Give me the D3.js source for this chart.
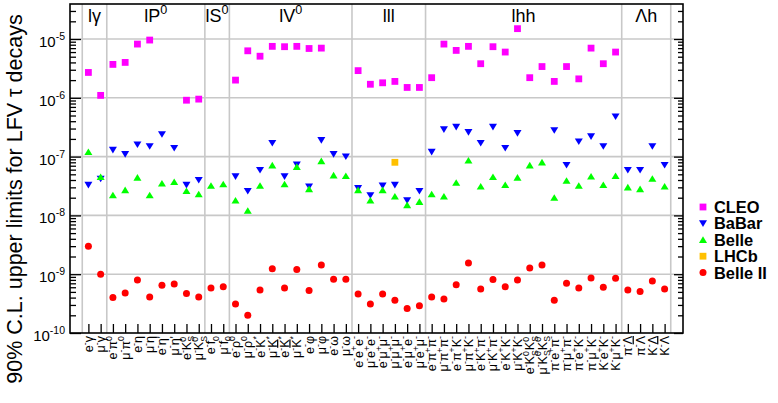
<!DOCTYPE html>
<html>
<head>
<meta charset="utf-8">
<script src="https://cdn.jsdelivr.net/npm/d3@7"></script>
<style>
body { margin: 0; background: #fff; }
text { font-family: "Liberation Sans", Arial, Helvetica, sans-serif; fill: #000; }
</style>
</head>
<body>
<svg id="chart" width="778" height="403"></svg>
<script>
// decay groups along x (name, number of channels)
const groupNames = ["l\u03b3", "lP^{0}", "lS^{0}", "lV^{0}", "lll", "lhh", "\u039bh"];
const groupSizes = [2, 8, 2, 10, 6, 16, 4];

// channel labels (little latex-like markup: ^{} sup, _{} sub, #bar{} overline)
const decays = [
    "e^{-}\u03b3", "\u03bc^{-}\u03b3",
    "e^{-}\u03c0^{0}", "\u03bc^{-}\u03c0^{0}", "e^{-}\u03b7", "\u03bc^{-}\u03b7", "e^{-}\u03b7'", "\u03bc^{-}\u03b7'", "e^{-}K^{0}_{S}", "\u03bc^{-}K^{0}_{S}",
    "e^{-}f_{0}", "\u03bc^{-}f_{0}",
    "e^{-}\u03c1^{0}", "\u03bc^{-}\u03c1^{0}", "e^{-}K^{*}", "\u03bc^{-}K^{*}", "e^{-}#bar{K}^{*}", "\u03bc^{-}#bar{K}^{*}", "e^{-}\u03c6", "\u03bc^{-}\u03c6", "e^{-}\u03c9", "\u03bc^{-}\u03c9",
    "e^{-}e^{+}e^{-}", "\u03bc^{-}e^{+}e^{-}", "e^{-}\u03bc^{+}\u03bc^{-}", "\u03bc^{-}\u03bc^{+}\u03bc^{-}", "e^{-}\u03bc^{+}e^{-}", "\u03bc^{-}e^{+}\u03bc^{-}",
    "e^{-}\u03c0^{+}\u03c0^{-}", "\u03bc^{-}\u03c0^{+}\u03c0^{-}", "e^{-}\u03c0^{+}K^{-}", "\u03bc^{-}\u03c0^{+}K^{-}", "e^{-}K^{+}\u03c0^{-}", "\u03bc^{-}K^{+}\u03c0^{-}", "e^{-}K^{+}K^{-}", "\u03bc^{-}K^{+}K^{-}",
    "e^{-}K^{0}_{S}K^{0}_{S}", "\u03bc^{-}K^{0}_{S}K^{0}_{S}", "\u03c0^{-}e^{+}\u03c0^{-}", "\u03c0^{-}\u03bc^{+}\u03c0^{-}", "\u03c0^{-}e^{+}K^{-}", "\u03c0^{-}\u03bc^{+}K^{-}", "K^{-}e^{+}K^{-}", "K^{-}\u03bc^{+}K^{-}",
    "\u03c0^{-}\u039b", "\u03c0^{-}#bar{\u039b}", "K^{-}\u039b", "K^{-}#bar{\u039b}"
];

// upper limits per experiment, same order as decays (null = no limit)
const cleo = [
    2.7e-6, 1.1e-6,
    3.7e-6, 4.0e-6, 8.2e-6, 9.6e-6, null, null, 9.1e-7, 9.5e-7,
    null, null,
    2.0e-6, 6.3e-6, 5.1e-6, 7.5e-6, 7.4e-6, 7.5e-6, 6.9e-6, 7.0e-6, null, null,
    2.9e-6, 1.7e-6, 1.8e-6, 1.9e-6, 1.5e-6, 1.5e-6,
    2.2e-6, 8.2e-6, 6.4e-6, 7.5e-6, 3.8e-6, 7.4e-6, 6.0e-6, 1.5e-5, 2.2e-6, 3.4e-6, 1.9e-6, 3.4e-6, 2.1e-6, 7.0e-6, 3.8e-6, 6.0e-6,
    null, null, null, null
];
const babar = [
    3.3e-8, 4.2e-8,
    1.3e-7, 1.1e-7, 1.6e-7, 1.5e-7, 2.4e-7, 1.4e-7, 3.3e-8, 4.0e-8,
    null, null,
    4.6e-8, 2.6e-8, 5.9e-8, 1.7e-7, 4.6e-8, 7.3e-8, 3.1e-8, 1.9e-7, 1.1e-7, 1.0e-7,
    2.9e-8, 2.2e-8, 3.2e-8, 3.3e-8, 1.8e-8, 2.6e-8,
    1.2e-7, 2.9e-7, 3.2e-7, 2.6e-7, 1.7e-7, 3.2e-7, 1.4e-7, 2.5e-7, null, null, 2.8e-7, 7.2e-8, 1.8e-7, 2.2e-7, 1.5e-7, 4.8e-7,
    5.9e-8, 5.9e-8, 1.5e-7, 7.2e-8
];
const belle = [
    1.2e-7, 4.5e-8,
    2.2e-8, 2.7e-8, 4.4e-8, 2.2e-8, 3.5e-8, 3.7e-8, 2.6e-8, 2.3e-8,
    3.2e-8, 3.4e-8,
    1.8e-8, 1.2e-8, 3.2e-8, 7.1e-8, 3.4e-8, 6.7e-8, 2.8e-8, 8.4e-8, 4.8e-8, 4.7e-8,
    2.7e-8, 1.8e-8, 2.7e-8, 2.1e-8, 1.5e-8, 1.7e-8,
    2.3e-8, 2.1e-8, 3.6e-8, 8.6e-8, 3.1e-8, 4.5e-8, 3.3e-8, 4.4e-8, 7.1e-8, 8.0e-8, 2.0e-8, 3.9e-8, 3.2e-8, 4.6e-8, 3.3e-8, 4.7e-8,
    3.0e-8, 2.8e-8, 4.2e-8, 3.1e-8
];
const lhcb = [
    null, null,
    null, null, null, null, null, null, null, null,
    null, null,
    null, null, null, null, null, null, null, null, null, null,
    null, null, null, 8.0e-8, null, null,
    null, null, null, null, null, null, null, null, null, null, null, null, null, null, null, null,
    null, null, null, null
];
const belle2 = [
    3.0e-9, 1.0e-9,
    4.0e-10, 4.8e-10, 8.0e-10, 4.1e-10, 6.5e-10, 6.8e-10, 4.7e-10, 4.1e-10,
    5.8e-10, 6.1e-10,
    3.1e-10, 2.0e-10, 5.4e-10, 1.24e-9, 5.8e-10, 1.2e-9, 5.3e-10, 1.43e-9, 8.2e-10, 8.2e-10,
    4.6e-10, 3.1e-10, 4.6e-10, 3.6e-10, 2.6e-10, 2.9e-10,
    4.1e-10, 3.8e-10, 6.6e-10, 1.55e-9, 5.6e-10, 8.1e-10, 6.1e-10, 8.0e-10, 1.27e-9, 1.43e-9, 3.6e-10, 7.0e-10, 5.8e-10, 8.6e-10, 6.0e-10, 8.5e-10,
    5.4e-10, 5.1e-10, 7.7e-10, 5.6e-10
];

const experiments = ["CLEO", "BaBar", "Belle", "LHCb", "Belle II"];
const expValues = [cleo, babar, belle, lhcb, belle2];
const expColors = ["#ff00ff", "#0000ff", "#00ff00", "#ffc000", "#ff0000"];
const expShapes = ["square", "down", "up", "square", "circle"];

const yExponents = [-10, -9, -8, -7, -6, -5];


const svg = d3.select("#chart");
const plotLeft = 70, plotRight = 683, plotTop = 4, plotBottom = 333;
const nChan = decays.length;

const x = d3.scaleLinear().domain([-1, nChan + 1]).range([plotLeft, plotRight]);
const y = d3.scaleLog().domain([1e-10, 3.94e-5]).range([plotBottom, plotTop]);

// turns the small markup into tspans
function richText(sel, markup, fs) {
    const parts = [];
    let i = 0;
    while (i < markup.length) {
        const c = markup[i];
        if ((c === "^" || c === "_") && markup[i + 1] === "{") {
            const j = markup.indexOf("}", i);
            parts.push({ t: markup.slice(i + 2, j), k: c === "^" ? "sup" : "sub" });
            i = j + 1;
        } else if (markup.startsWith("#bar{", i)) {
            const j = markup.indexOf("}", i);
            parts.push({ t: markup.slice(i + 5, j), k: "bar" });
            i = j + 1;
        } else {
            let j = i;
            while (j < markup.length && !"^_#".includes(markup[j])) j++;
            if (j === i) j = i + 1;
            parts.push({ t: markup.slice(i, j), k: "n" });
            i = j;
        }
    }
    let shift = 0;
    let prev = null;
    parts.forEach(p => {
        const small = p.k === "sup" || p.k === "sub";
        const target = p.k === "sup" ? -0.42 * fs : p.k === "sub" ? 0.28 * fs : 0;
        const ts = sel.append("tspan").text(p.t).attr("dy", target - shift);
        shift = target;
        if (small) ts.attr("font-size", fs * 0.7);
        if (p.k === "bar") ts.style("text-decoration", "overline");
        if (p.k === "sub" && prev && prev.k === "sup") {
            ts.attr("dx", -0.556 * fs * 0.7 * prev.t.length);
        }
        prev = p;
    });
}

// group boundaries
const bounds = [0];
groupSizes.forEach(n => bounds.push(bounds[bounds.length - 1] + n));

// grid
const grid = svg.append("g").attr("stroke", "#c8c8c8").attr("stroke-width", 1.6);
yExponents.slice(1).forEach(e => {
    grid.append("line")
        .attr("x1", plotLeft).attr("x2", plotRight)
        .attr("y1", y(Math.pow(10, e))).attr("y2", y(Math.pow(10, e)));
});
bounds.forEach(b => {
    grid.append("line")
        .attr("x1", x(b)).attr("x2", x(b))
        .attr("y1", plotTop).attr("y2", plotBottom);
});

// group names
groupNames.forEach((g, i) => {
    const t = svg.append("text")
        .attr("x", (x(bounds[i]) + x(bounds[i + 1])) / 2)
        .attr("y", 22)
        .attr("text-anchor", "middle")
        .attr("font-size", 18);
    richText(t, g, 18);
});

// y axis ticks (left, inward) and mirrored on the right
const majors = yExponents.map(e => Math.pow(10, e));
const minors = [];
yExponents.forEach(e => {
    for (let m = 2; m <= 9; m++) {
        const v = m * Math.pow(10, e);
        if (v < y.domain()[1]) minors.push(v);
    }
});

function yTicks(axis, pos, majorLen, minorLen) {
    [[majors, majorLen], [minors, minorLen]].forEach(([vals, len]) => {
        svg.append("g")
            .attr("transform", `translate(${pos},0)`)
            .call(axis(y).tickValues(vals).tickSize(len).tickFormat(""))
            .call(g => g.select(".domain").remove())
            .selectAll("line").attr("stroke", "#000").attr("stroke-width", 1.3);
    });
}
yTicks(d3.axisRight, plotLeft, 11, 6);
yTicks(d3.axisLeft, plotRight, 9, 5);

// bottom ticks at each channel
svg.append("g")
    .attr("transform", `translate(0,${plotBottom})`)
    .call(d3.axisTop(x).tickValues(d3.range(nChan).map(i => i + 0.5)).tickSize(9).tickFormat(""))
    .call(g => g.select(".domain").remove())
    .selectAll("line").attr("stroke", "#000").attr("stroke-width", 1.3);

// frame
svg.append("rect")
    .attr("x", plotLeft).attr("y", plotTop)
    .attr("width", plotRight - plotLeft).attr("height", plotBottom - plotTop)
    .attr("fill", "none").attr("stroke", "#000").attr("stroke-width", 1.6);

// y tick labels
yExponents.forEach(e => {
    const t = svg.append("text")
        .attr("x", 65)
        .attr("y", y(Math.pow(10, e)) + 8)
        .attr("text-anchor", "end")
        .attr("font-size", 15);
    t.append("tspan").text("10");
    t.append("tspan").attr("font-size", 10.5).attr("dy", -7).text(String(e));
});

// y title
svg.append("text")
    .attr("transform", "translate(22,199) rotate(-90)")
    .attr("text-anchor", "middle")
    .attr("font-size", 21.5)
    .text("90% C.L. upper limits for LFV \u03c4 decays");

// channel labels
decays.forEach((d, i) => {
    const t = svg.append("text")
        .attr("transform", `translate(${x(i + 0.5) + 4.5},${plotBottom + 3}) rotate(-90)`)
        .attr("text-anchor", "end")
        .attr("font-size", 12.5);
    richText(t, d, 12.5);
});

// markers
function marker(sel, shape, color) {
    if (shape === "square") {
        sel.append("rect").attr("x", -3.4).attr("y", -3.4).attr("width", 6.8).attr("height", 6.8).attr("fill", color);
    } else if (shape === "circle") {
        sel.append("circle").attr("r", 3.5).attr("fill", color);
    } else if (shape === "up") {
        sel.append("path").attr("d", "M0,-3.5L4,3.1L-4,3.1Z").attr("fill", color);
    } else {
        sel.append("path").attr("d", "M0,3.5L4,-3.1L-4,-3.1Z").attr("fill", color);
    }
}

experiments.forEach((name, k) => {
    const pts = expValues[k].map((v, i) => ({ i, v })).filter(p => p.v != null);
    svg.append("g").selectAll("g")
        .data(pts)
        .join("g")
        .attr("transform", p => `translate(${x(p.i + 0.5)},${y(p.v)})`)
        .each(function() { marker(d3.select(this), expShapes[k], expColors[k]); });
});

// legend
experiments.forEach((name, k) => {
    const cy = 207 + k * 16.4;
    const g = svg.append("g").attr("transform", `translate(703,${cy})`);
    marker(g, expShapes[k], expColors[k]);
    svg.append("text")
        .attr("x", 714).attr("y", cy + 6)
        .attr("font-size", 16.4).attr("font-weight", "bold")
        .text(name);
});
</script>
</body>
</html>
